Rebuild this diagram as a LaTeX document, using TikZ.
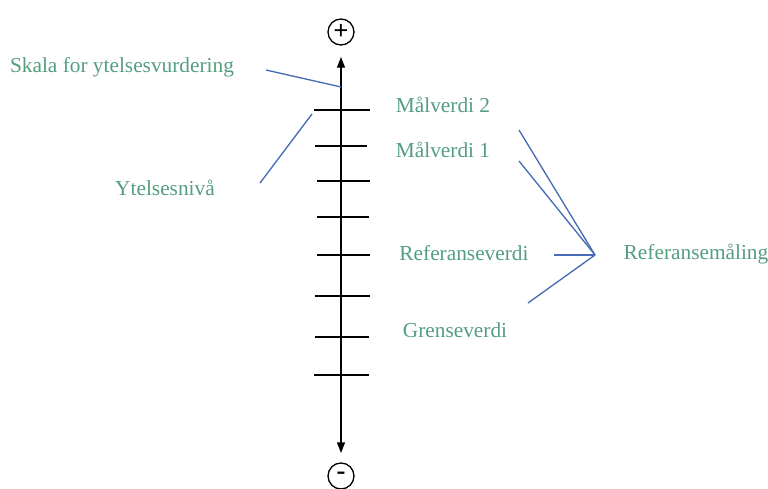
\documentclass[tikz,border=0pt]{standalone}
\usepackage{fontspec}
\setmainfont{Liberation Serif}
\usetikzlibrary{arrows.meta}
\definecolor{lbl}{RGB}{84,158,128}
\definecolor{lnk}{RGB}{70,108,180}
\begin{document}
\begin{tikzpicture}[x=0.75pt,y=-0.75pt,
  lab/.style={text=lbl,font=\fontsize{16}{19}\selectfont,inner sep=0pt},
  ptr/.style={draw=lnk,line width=1pt},
  tick/.style={draw=black,line width=1pt},
  sign/.style={circle,draw=black,line width=1pt,minimum size=26*0.75pt,inner sep=0pt,font=\fontsize{20}{20}\selectfont\bfseries}]
\useasboundingbox (0,0) rectangle (768,489);
% axis
\node[sign] (plus) at (341,32) {+};
\node[sign] (minus) at (341,476) {-};
\coordinate (top) at (341,57);
\coordinate (bot) at (341,453);
\draw[line width=1pt,{Triangle[length=8pt,width=6pt]}-{Triangle[length=8pt,width=6pt]}] (bot) -- (top);
% ticks
\foreach \y/\a/\b [count=\i] in {110/314/370,146/315/367,181/317/370,217/317/369,255/317/370,296/315/370,337/315/369,375/314/369}{
  \coordinate (tl\i) at (\a,\y);
  \coordinate (tr\i) at (\b,\y);
  \draw[tick] (tl\i) -- (tr\i);
}
% labels
\node[lab] (m2) at (443,105) {Målverdi 2};
\node[lab] (m1) at (443,150) {Målverdi 1};
\node[lab] (ref) at (464,253) {Referanseverdi};
\node[lab] (gr) at (455,330) {Grenseverdi};
\node[lab] (rm) at (696,254) {Referansemåling};
\node[lab] (sk) at (122,67) {Skala for ytelsesvurdering};
\node[lab] (yt) at (165,188) {Ytelsesnivå};
% pointers
\coordinate (skA) at (266,70);
\coordinate (skB) at (341,87);
\draw[ptr] (skA) -- (skB);
\coordinate (ytA) at (260,183);
\coordinate (ytB) at (312,114);
\draw[ptr] (ytA) -- (ytB);
\coordinate (fan) at (595,255);
\coordinate (f1) at (519,130);
\coordinate (f2) at (519,161);
\coordinate (f3) at (554,255);
\coordinate (f4) at (528,303);
\draw[ptr] (f1) -- (fan);
\draw[ptr] (f2) -- (fan);
\draw[ptr] (f3) -- (fan);
\draw[ptr] (f4) -- (fan);
\end{tikzpicture}
\end{document}
